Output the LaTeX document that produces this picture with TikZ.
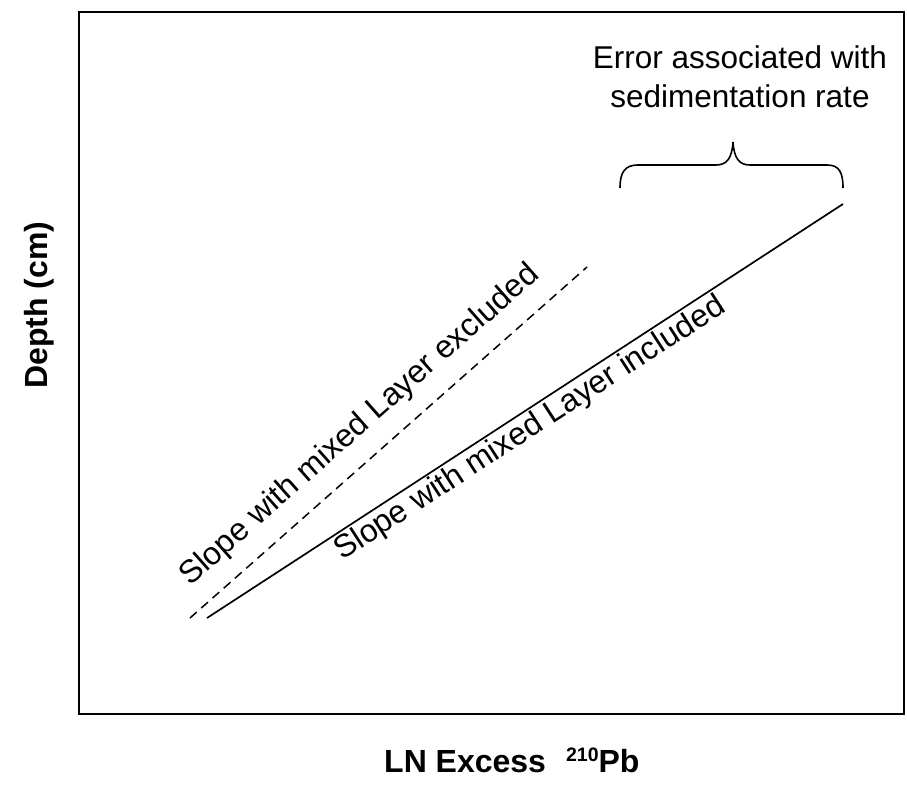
\documentclass[tikz,border=0pt]{standalone}
\usepackage{fontspec}
\setmainfont{Liberation Sans}
\begin{document}
\begin{tikzpicture}[x=1pt,y=-1pt,
  lbl/.style={inner sep=0pt,font=\fontsize{31.5}{37}\selectfont},
  slopelbl/.style={inner sep=0pt,font=\fontsize{32}{38}\selectfont},
  axislbl/.style={inner sep=0pt,font=\fontsize{32}{38}\selectfont\bfseries},
  frameline/.style={line width=2.4pt},
  slopeline/.style={line width=1.7pt},
  dashline/.style={line width=1.5pt,dash pattern=on 9pt off 6pt}]
\useasboundingbox (0,0) rectangle (907,793);

% plot frame
\draw[frameline] (79,12) rectangle (904,714);

% regression lines
\coordinate (exA) at (190,618);
\coordinate (exB) at (587,267);
\coordinate (inA) at (207,618);
\coordinate (inB) at (843,204);
\draw[dashline] (exA) -- (exB);
\draw[slopeline] (inA) -- (inB);

% line labels
\node[slopelbl,anchor=base west,rotate=41.5] (exlbl) at (190,587) {Slope with mixed Layer excluded};
\node[slopelbl,anchor=base west,rotate=33] (inlbl) at (342,561) {Slope with mixed Layer included};

% brace over the spread of the slopes
\draw[line width=1.6pt] (620,188) .. controls (620,172) and (625,165) .. (638,165)
  -- (716,165) .. controls (727,165) and (732,158) .. (733,142)
  .. controls (734,158) and (739,165) .. (750,165)
  -- (827,165) .. controls (839,165) and (843,172) .. (843,188);

\node[lbl,anchor=base] (errA) at (740,68) {Error associated with};
\node[lbl,anchor=base] (errB) at (740,107) {sedimentation rate};

% axis titles
\node[axislbl,anchor=base west] (xlbl) at (384,772)
  {LN Excess\hspace{20pt}\raisebox{11pt}{\fontsize{19.5}{19.5}\selectfont\bfseries 210}Pb};
\node[axislbl,anchor=base,rotate=90] (ylbl) at (47,305) {Depth (cm)};
\end{tikzpicture}
\end{document}
